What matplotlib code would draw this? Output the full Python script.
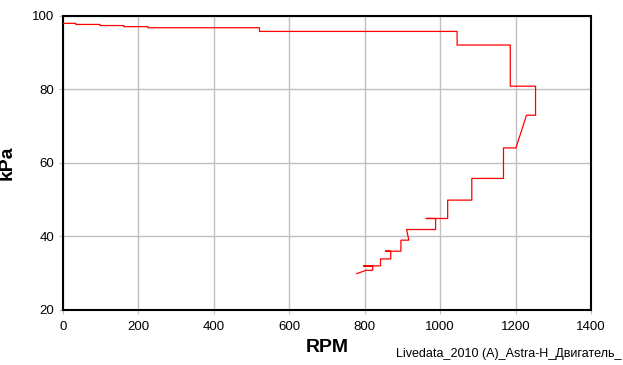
import matplotlib.pyplot as plt

plt.rcParams['font.family'] = ['Liberation Sans', 'DejaVu Sans']

# trace vertices (RPM, kPa) in drawing order
rpm = [0, 34, 34, 98, 98, 161, 161, 225, 225, 521, 521, 1045, 1045, 1186, 1186,
       1253, 1253, 1229, 1201, 1168, 1168, 1084, 1084, 1020, 1020, 963, 988, 988,
       911, 917, 896, 896, 855, 869, 869, 842, 842, 797, 821, 821, 804, 779]
kpa = [98.0, 98.0, 97.7, 97.7, 97.4, 97.4, 97.1, 97.1, 96.8, 96.8, 95.8, 95.8,
       92.1, 92.1, 80.9, 80.9, 73.0, 73.0, 64.1, 64.1, 55.8, 55.8, 49.9, 49.9,
       44.9, 44.9, 44.9, 41.9, 41.9, 39.0, 39.0, 36.0, 36.0, 36.0, 33.9, 33.9,
       32.0, 32.0, 32.0, 30.8, 30.8, 29.9]

x_ticks = [0, 200, 400, 600, 800, 1000, 1200, 1400]
y_ticks = [20, 40, 60, 80, 100]

fig = plt.figure(figsize=(6.23, 3.65), dpi=100)
ax = fig.add_axes([0.1011, 0.1507, 0.8475, 0.8055])

ax.plot(rpm, kpa, color='#ff0000', lw=0.9, zorder=3)

ax.set_xlim(0, 1400)
ax.set_ylim(20, 100)
ax.set_xticks(x_ticks)
ax.set_yticks(y_ticks)
ax.grid(True, color='#c0c0c0', lw=1.0)
ax.tick_params(colors='#c0c0c0', labelcolor='black', length=3, labelsize=9.5)
ax.tick_params(axis='x', pad=5)
for s in ax.spines.values():
    s.set_linewidth(1.5)
    s.set_color('black')

ax.set_xlabel('RPM', fontsize=14, fontweight='bold', labelpad=4)
ax.set_ylabel('kPa', fontsize=14, fontweight='bold')
ax.yaxis.set_label_coords(-0.09, 0.5)

fig.text(396 / 623, 1 - 354 / 365, 'Livedata_2010 (A)_Astra-H_Двигатель_',
         fontsize=9.0, va='center', ha='left')

fig.savefig('out.png', dpi=100)
